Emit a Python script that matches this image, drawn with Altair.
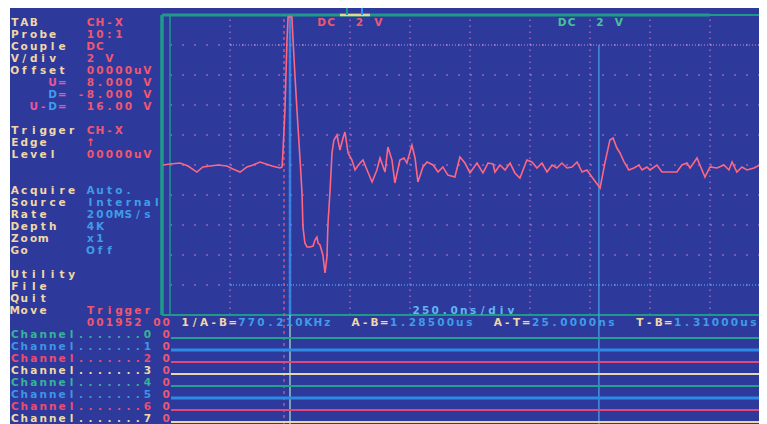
import altair as alt
import pandas as pd

# ---------------- data read from the screen ----------------
# main trace: time in ns from the left graticule edge, amplitude in volts (2 V/div)
trace_ns = [-29, 0, 42, 75, 112, 137, 167, 200, 237, 262,
            292, 321, 346, 375, 400, 425, 458, 467, 471, 479,
            487, 492, 508, 512, 521, 529, 542, 550, 554, 562,
            571, 583, 596, 604, 612, 617, 625, 637, 646, 654,
            658, 667, 675, 683, 696, 708, 721, 729, 742, 758,
            771, 779, 792, 804, 821, 842, 862, 875, 896, 908,
            925, 937, 958, 975, 987, 1008, 1021, 1033, 1054, 1071,
            1096, 1117, 1137, 1158, 1187, 1208, 1229, 1250, 1279, 1304,
            1325, 1346, 1354, 1375, 1396, 1417, 1437, 1458, 1487, 1508,
            1529, 1550, 1571, 1592, 1612, 1633, 1654, 1675, 1696, 1717,
            1737, 1758, 1792, 1812, 1833, 1846, 1862, 1875, 1892, 1912,
            1933, 1954, 1967, 1987, 2000, 2029, 2050, 2083, 2112, 2133,
            2154, 2167, 2196, 2208, 2229, 2250, 2279, 2308, 2329, 2342,
            2362, 2383, 2404, 2433, 2458, 2487]
trace_v = [0, 0.07, 0.13, -0.07, -0.47, -0.13, -0.07, 0, -0.07, -0.27,
           -0.47, -0.13, 0, 0.2, 0.07, -0.07, -0.2, -0.13, 1.0, 3.67,
           8.13, 9.87, 9.87, 8.53, 5.87, 3.67, 0.33, -1.87, -4.13, -5.2,
           -5.47, -5.47, -5.4, -5.0, -4.8, -5.2, -5.33, -6.0, -7.2, -6.13,
           -4.0, -1.67, 0.8, 1.67, 2.0, 1.0, 1.8, 2.2, 0.8, 0.33,
           -0.33, -0.13, 0.13, 0.33, -0.33, -1.13, -0.33, 0.47, -0.47, 1.2,
           0.33, -1.2, 0.33, 0.47, 0.13, 1.33, 0.47, -1.13, -0.13, 0.2,
           0, -0.47, -0.13, -0.67, -0.8, 0.53, 0.13, -0.53, 0.13, -0.53,
           0.13, 0.07, -0.47, 0, -0.33, 0.13, -0.53, -0.87, 0.33, 0.2,
           -0.2, 0.13, -0.47, 0, -0.2, 0.13, -0.2, -0.13, 0.2, -0.47,
           -0.33, -0.8, -1.53, 0.13, 1.67, 1.8, 1.13, 0.8, 0.2, -0.33,
           -0.2, 0, -0.33, -0.13, -0.33, 0, -0.47, -0.47, -0.47, 0,
           0.13, -0.2, 0.47, 0, -0.8, -0.13, -0.2, 0, -0.33, 0.2,
           -0.47, -0.13, -0.33, -0.2, 0, 0]

# graticule: 250 ns/div, 2 V/div
grid_ns = [250, 500, 750, 1000, 1250, 1500, 1750, 2000, 2250]
grid_v = [-8, -6, -4, -2, 0, 2, 4, 6, 8]

# cursors
cursor_A_ns = 475
cursor_T_ns = 500
cursor_B_ns = 1787
cursor_U_v = 8.0
cursor_D_v = -8.0

# channel position markers on the top edge (ns)
marker_span_ns = [708, 833]
marker_ticks_ns = [737, 800]

# character-screen text: row, column, text, colour role
seg_row = [0, 0, 1, 1, 2, 2, 3, 3, 4, 4,
           5, 5, 6, 6, 6, 7, 7, 7, 7,
           9, 9, 10, 10, 11, 11,
           14, 14, 15, 15, 16, 16, 17, 17, 18, 18, 19, 19,
           21, 22, 23, 24, 24, 24,
           25, 25, 25, 25, 25, 25, 25, 25, 25,
           0, 0]
seg_col = [0, 8, 0, 8, 0, 8, 0, 8, 0, 8,
           4, 8, 4, 5, 7, 2, 4, 5, 8,
           0, 8, 0, 8, 0, 8,
           0, 8, 0, 8, 0, 8, 0, 8, 0, 8, 0, 8,
           0, 0, 0, 0, 8, 42.4,
           8, 18, 24, 36, 40, 51, 55, 66, 70,
           32.4, 57.8]
seg_text = ["TAB", "CH-X", "Probe", "10:1", "Couple", "DC", "V/div", "2 V", "Offset", "00000uV",
            "U=", "8.000 V", "D", "=", "-8.000 V", "U-", "D", "=", "16.00 V",
            "Trigger", "CH-X", "Edge", "\u2191", "Level", "00000uV",
            "Acquire", "Auto.", "Source", "Internal", "Rate", "200MS/s", "Depth", "4K", "Zoom", "x1", "Go", "Off",
            "Utility", "File", "Quit", "Move", "Trigger", "250.0ns/div",
            "001952 00", "1/A-B=", "770.210KHz", "A-B=", "1.28500us", "A-T=", "25.0000ns", "T-B=", "1.31000us",
            "DC  2 V", "DC  2 V"]
seg_role = ["label", "red", "label", "red", "label", "red", "label", "red", "label", "red",
            "pink", "red", "blue", "pink", "red", "pink", "blue", "pink", "red",
            "label", "red", "label", "red", "label", "red",
            "label", "blue", "label", "blue", "label", "blue", "label", "blue", "label", "blue", "label", "blue",
            "label", "label", "label", "label", "red", "sky",
            "red", "label", "blue", "label", "blue", "label", "blue", "label", "blue",
            "red", "teal"]

# logic channels
channel_ids = [0, 1, 2, 3, 4, 5, 6, 7]
channel_level = ["0", "0", "0", "0", "0", "0", "0", "0"]
channel_role = ["ch_teal", "ch_blue", "ch_red", "ch_cream", "ch_teal", "ch_blue", "ch_red", "ch_cream"]

# ---------------- styling / layout ----------------
BG = "#2d3a9b"
TEAL = "#1f9a8a"
GRID = "#a86cc0"
COL = {"label": "#f2d7a6", "red": "#f2566f", "pink": "#e8569c", "blue": "#3f9ce8",
       "sky": "#62b4f2", "teal": "#48c29c",
       "ch_teal": "#36b497", "ch_blue": "#3d95e6", "ch_red": "#ee4c70", "ch_cream": "#efd9a6"}
LINECOL = {"ch_teal": "#26a08b", "ch_blue": "#2f8ae6", "ch_red": "#e0487c", "ch_cream": "#e6d7b0"}

PAD_L = 2
W, H = 749, 416                 # whole svg = 751 px wide, so the page does not overflow sideways
X0, PXNS = 160.0, 0.24          # chart px of t=0, px per ns (60 px per 250 ns division)
Y0, PXV = 157.0, 15.0           # chart px of 0 V, px per volt (30 px per 2 V division)
CELL_W, CELL_H = 9.47, 12.0     # character cell
TXT_X0, TXT_Y0 = 0.0, 15.0


def px_to_ns(px):
    return (px - X0) / PXNS


def py_to_v(py):
    return (Y0 - py) / PXV


def col_ns(c):
    return px_to_ns(TXT_X0 + CELL_W * c)


def row_v(r):
    return py_to_v(TXT_Y0 + CELL_H * r)


T_MIN, T_MAX = px_to_ns(0), px_to_ns(W)
V_MAX, V_MIN = py_to_v(0), py_to_v(H)
XS = alt.Scale(domain=[T_MIN, T_MAX], nice=False, zero=False)
YS = alt.Scale(domain=[V_MIN, V_MAX], nice=False, zero=False)
T_LEFT = px_to_ns(X0 - 8)
T_RIGHT = T_MAX


def X(f):
    return alt.X(f, type="quantitative", scale=XS, axis=None)


def Y(f):
    return alt.Y(f, type="quantitative", scale=YS, axis=None)


def hrule(df, color, width, dash=None, opacity=1.0):
    kw = dict(color=color, strokeWidth=width, opacity=opacity)
    if dash:
        kw["strokeDash"] = dash
    return alt.Chart(df).mark_rule(**kw).encode(x=X("t0"), x2="t1", y=Y("v"))


def vrule(df, color, width, dash=None, opacity=1.0):
    kw = dict(color=color, strokeWidth=width, opacity=opacity)
    if dash:
        kw["strokeDash"] = dash
    return alt.Chart(df).mark_rule(**kw).encode(x=X("t"), y=Y("v0"), y2="v1")


layers = []

# graticule
layers.append(hrule(pd.DataFrame({"v": grid_v, "t0": 0, "t1": T_RIGHT}), GRID, 1.6, [2, 10], 0.85))
layers.append(vrule(pd.DataFrame({"t": grid_ns, "v0": -10, "v1": 10}), GRID, 1.6, [1.5, 4.5], 0.85))

# horizontal cursors
layers.append(hrule(pd.DataFrame({"v": [cursor_U_v], "t0": 250, "t1": T_RIGHT}), "#d99ad0", 1.2, [1, 2], 0.9))
layers.append(hrule(pd.DataFrame({"v": [cursor_D_v], "t0": 250, "t1": T_RIGHT}), "#4aa0f2", 1.4, [1, 2], 0.9))

# frame
layers.append(hrule(pd.DataFrame({"v": [10], "t0": T_LEFT, "t1": 2250}), TEAL, 3))
layers.append(hrule(pd.DataFrame({"v": [10], "t0": 2250, "t1": T_RIGHT}), TEAL, 2))
layers.append(hrule(pd.DataFrame({"v": [-10], "t0": T_LEFT, "t1": T_RIGHT}), TEAL, 2))
layers.append(vrule(pd.DataFrame({"t": [T_LEFT], "v0": -10, "v1": 10}), TEAL, 3.5))
layers.append(vrule(pd.DataFrame({"t": [0], "v0": -10, "v1": 10}), TEAL, 1.5))

# vertical cursors
layers.append(vrule(pd.DataFrame({"t": [cursor_T_ns], "v0": -10, "v1": 10}), "#3a8ee8", 2.5, None, 0.85))
layers.append(vrule(pd.DataFrame({"t": [cursor_T_ns], "v0": V_MIN, "v1": -10}), "#9fd3c6", 1.5, None, 0.9))
layers.append(vrule(pd.DataFrame({"t": [cursor_A_ns], "v0": V_MIN, "v1": 10}), "#f0506e", 1.3, [3, 3]))
layers.append(vrule(pd.DataFrame({"t": [cursor_B_ns], "v0": V_MIN, "v1": cursor_U_v}), "#4aa8f0", 1.5, None, 0.8))

# logic channel lines
ch_lines = pd.DataFrame({
    "v": [row_v(26 + k + 0.25) for k in channel_ids],
    "t0": col_ns(17), "t1": T_RIGHT,
    "color": [LINECOL[r] for r in channel_role],
    "w": [3 if r == "ch_blue" else 2 for r in channel_role],
})
layers.append(alt.Chart(ch_lines).mark_rule().encode(
    x=X("t0"), x2="t1", y=Y("v"),
    color=alt.Color("color:N", scale=None),
    strokeWidth=alt.StrokeWidth("w:Q", scale=None)))

# channel position marker on top edge
layers.append(hrule(pd.DataFrame({"v": [10], "t0": [marker_span_ns[0]], "t1": [marker_span_ns[1]]}), "#dcdc8c", 2.5))
layers.append(alt.Chart(pd.DataFrame({"t": marker_ticks_ns, "v0": 10, "v1": V_MAX,
                                      "color": [TEAL, "#3a8ee8"]}))
              .mark_rule(strokeWidth=2).encode(x=X("t"), y=Y("v0"), y2="v1",
                                                color=alt.Color("color:N", scale=None)))

# trace
layers.append(alt.Chart(pd.DataFrame({"t": trace_ns, "v": trace_v}))
              .mark_line(color="#ff6684", strokeWidth=1.6)
              .encode(x=X("t"), y=Y("v")))

# character screen
chars = []
all_rows = list(seg_row)
all_cols = list(seg_col)
all_text = list(seg_text)
all_role = list(seg_role)
for k, lvl, role in zip(channel_ids, channel_level, channel_role):
    all_rows += [26 + k, 26 + k, 26 + k]
    all_cols += [0, 14, 16]
    all_text += ["Channel.......", str(k), lvl]
    all_role += [role, role, "red"]
for r, c, s, role in zip(all_rows, all_cols, all_text, all_role):
    for i, ch in enumerate(s):
        if ch != " ":
            chars.append({"t": col_ns(c + i + 0.5), "v": row_v(r), "ch": ch, "color": COL[role]})
layers.append(alt.Chart(pd.DataFrame(chars))
              .mark_text(font="DejaVu Sans", fontWeight="bold", fontSize=10.5,
                         align="center", baseline="middle")
              .encode(x=X("t"), y=Y("v"), text="ch:N", color=alt.Color("color:N", scale=None)))

chart = (alt.layer(*layers)
         .properties(width=W, height=H, background="white",
                     padding={"left": PAD_L, "top": 0, "right": 0, "bottom": 0},
                     autosize=alt.AutoSizeParams(type="none"))
         .configure_view(fill=BG, stroke=BG, strokeWidth=0))

chart.save("out.html", embed_options={"renderer": "svg", "actions": False})
